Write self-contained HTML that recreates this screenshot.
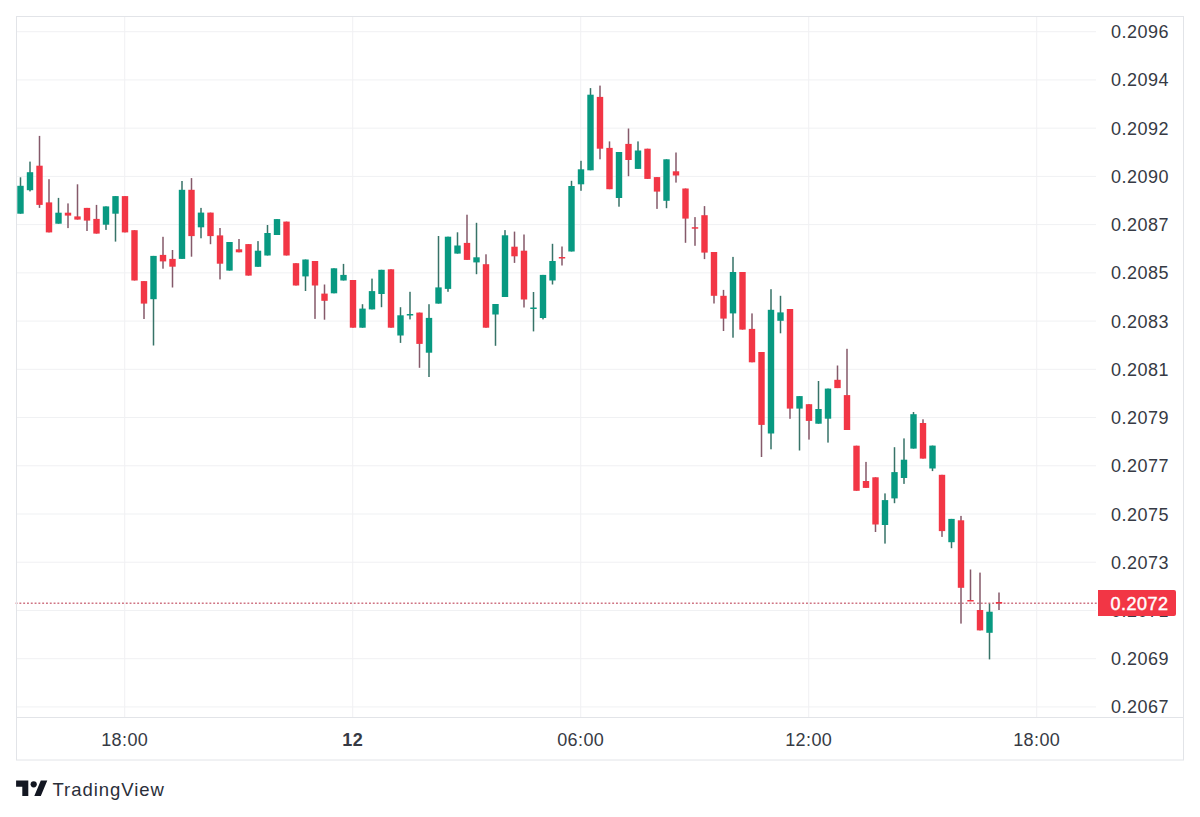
<!DOCTYPE html>
<html><head><meta charset="utf-8"><title>TradingView chart</title>
<style>
html,body{margin:0;padding:0;background:#fff;}
body{width:1200px;height:817px;position:relative;overflow:hidden;font-family:"Liberation Sans",Arial,sans-serif;}
svg.chart{position:absolute;left:0;top:0;}
.pl{position:absolute;left:1100px;width:69px;text-align:right;font-size:18px;letter-spacing:0.5px;line-height:21px;color:#363a44;}
.tl{position:absolute;top:729.5px;width:80px;text-align:center;font-size:18px;letter-spacing:0.4px;line-height:21px;color:#363a44;}
.tl.b{font-weight:bold;}
.last{position:absolute;left:1098.3px;top:590.2px;width:78px;height:25.6px;background:#F23645;color:#fff;font-size:18px;line-height:25.6px;letter-spacing:0.5px;-webkit-text-stroke:0.45px #fff;border-radius:0 2px 2px 0;}
.last span{position:absolute;right:7.8px;top:1.5px;}
.logo{position:absolute;left:12px;top:776px;}
.brand{position:absolute;left:52.5px;top:779px;font-size:18.5px;line-height:22px;color:#2a2e39;letter-spacing:0.95px;}
</style></head>
<body>
<svg class="chart" width="1200" height="817" viewBox="0 0 1200 817" shape-rendering="auto">
<rect x="17" y="31.2" width="1079" height="1" fill="#f0f1f3"/>
<rect x="17" y="79.43" width="1079" height="1" fill="#f0f1f3"/>
<rect x="17" y="127.66" width="1079" height="1" fill="#f0f1f3"/>
<rect x="17" y="175.89" width="1079" height="1" fill="#f0f1f3"/>
<rect x="17" y="224.12" width="1079" height="1" fill="#f0f1f3"/>
<rect x="17" y="272.35" width="1079" height="1" fill="#f0f1f3"/>
<rect x="17" y="320.58" width="1079" height="1" fill="#f0f1f3"/>
<rect x="17" y="368.81" width="1079" height="1" fill="#f0f1f3"/>
<rect x="17" y="417.04" width="1079" height="1" fill="#f0f1f3"/>
<rect x="17" y="465.27" width="1079" height="1" fill="#f0f1f3"/>
<rect x="17" y="513.5" width="1079" height="1" fill="#f0f1f3"/>
<rect x="17" y="561.73" width="1079" height="1" fill="#f0f1f3"/>
<rect x="17" y="609.96" width="1079" height="1" fill="#f0f1f3"/>
<rect x="17" y="658.19" width="1079" height="1" fill="#f0f1f3"/>
<rect x="17" y="706.42" width="1079" height="1" fill="#f0f1f3"/>
<rect x="124.2" y="17" width="1" height="700" fill="#f0f1f3"/>
<rect x="352.2" y="17" width="1" height="700" fill="#f0f1f3"/>
<rect x="580.2" y="17" width="1" height="700" fill="#f0f1f3"/>
<rect x="808.2" y="17" width="1" height="700" fill="#f0f1f3"/>
<rect x="1036.2" y="17" width="1" height="700" fill="#f0f1f3"/>
<line x1="15.6" y1="603.2" x2="1098" y2="603.2" stroke="#cf7483" stroke-width="1.5" stroke-dasharray="1.9 1.9"/>
<rect x="19.75" y="177.3" width="1.5" height="36.4" fill="#377368"/>
<rect x="17.3" y="185.8" width="6.4" height="27.9" fill="#089981"/>
<rect x="29.25" y="161.6" width="1.5" height="29.8" fill="#377368"/>
<rect x="26.8" y="172.2" width="6.4" height="18" fill="#089981"/>
<rect x="38.75" y="135.9" width="1.5" height="72" fill="#85596a"/>
<rect x="36.3" y="165.7" width="6.4" height="39.2" fill="#F23645"/>
<rect x="48.25" y="179.2" width="1.5" height="53.2" fill="#85596a"/>
<rect x="45.8" y="202.4" width="6.4" height="30" fill="#F23645"/>
<rect x="57.75" y="197.9" width="1.5" height="25.8" fill="#377368"/>
<rect x="55.3" y="212.7" width="6.4" height="11" fill="#089981"/>
<rect x="67.25" y="203.4" width="1.5" height="24.7" fill="#85596a"/>
<rect x="64.8" y="212.7" width="6.4" height="2.9" fill="#F23645"/>
<rect x="76.75" y="184.3" width="1.5" height="35.3" fill="#85596a"/>
<rect x="74.3" y="216.4" width="6.4" height="3.2" fill="#F23645"/>
<rect x="86.25" y="207.9" width="1.5" height="23.1" fill="#85596a"/>
<rect x="83.8" y="207.9" width="6.4" height="12.7" fill="#F23645"/>
<rect x="95.75" y="204.9" width="1.5" height="28.7" fill="#85596a"/>
<rect x="93.3" y="218.9" width="6.4" height="14.7" fill="#F23645"/>
<rect x="105.25" y="206.4" width="1.5" height="23.5" fill="#377368"/>
<rect x="102.8" y="206.4" width="6.4" height="18.3" fill="#089981"/>
<rect x="114.75" y="196.1" width="1.5" height="45.5" fill="#377368"/>
<rect x="112.3" y="196.1" width="6.4" height="17.6" fill="#089981"/>
<rect x="124.25" y="196.1" width="1.5" height="36.3" fill="#85596a"/>
<rect x="121.8" y="196.1" width="6.4" height="36.3" fill="#F23645"/>
<rect x="133.75" y="230.2" width="1.5" height="50.3" fill="#85596a"/>
<rect x="131.3" y="230.2" width="6.4" height="50.3" fill="#F23645"/>
<rect x="143.25" y="281.1" width="1.5" height="37.9" fill="#85596a"/>
<rect x="140.8" y="281.1" width="6.4" height="22.5" fill="#F23645"/>
<rect x="152.75" y="255.9" width="1.5" height="89.6" fill="#377368"/>
<rect x="150.3" y="255.9" width="6.4" height="43.3" fill="#089981"/>
<rect x="162.25" y="236.8" width="1.5" height="31.9" fill="#85596a"/>
<rect x="159.8" y="254.9" width="6.4" height="6.5" fill="#F23645"/>
<rect x="171.75" y="250" width="1.5" height="37.5" fill="#85596a"/>
<rect x="169.3" y="258.9" width="6.4" height="7.8" fill="#F23645"/>
<rect x="181.25" y="181" width="1.5" height="77.9" fill="#377368"/>
<rect x="178.8" y="189.8" width="6.4" height="69.1" fill="#089981"/>
<rect x="190.75" y="178.1" width="1.5" height="78.6" fill="#85596a"/>
<rect x="188.3" y="189.8" width="6.4" height="46.3" fill="#F23645"/>
<rect x="200.25" y="207.9" width="1.5" height="30.4" fill="#377368"/>
<rect x="197.8" y="212.6" width="6.4" height="14.7" fill="#089981"/>
<rect x="209.75" y="212.6" width="1.5" height="31.6" fill="#85596a"/>
<rect x="207.3" y="212.6" width="6.4" height="23.5" fill="#F23645"/>
<rect x="219.25" y="228" width="1.5" height="51.4" fill="#85596a"/>
<rect x="216.8" y="235.4" width="6.4" height="28.3" fill="#F23645"/>
<rect x="228.75" y="242" width="1.5" height="28.6" fill="#377368"/>
<rect x="226.3" y="242" width="6.4" height="28.6" fill="#089981"/>
<rect x="238.25" y="239" width="1.5" height="13.3" fill="#85596a"/>
<rect x="235.8" y="249.3" width="6.4" height="3" fill="#F23645"/>
<rect x="247.75" y="244.1" width="1.5" height="31.5" fill="#85596a"/>
<rect x="245.3" y="244.1" width="6.4" height="31.5" fill="#F23645"/>
<rect x="257.25" y="241.1" width="1.5" height="25.7" fill="#377368"/>
<rect x="254.8" y="250.7" width="6.4" height="16.1" fill="#089981"/>
<rect x="266.75" y="225" width="1.5" height="30.5" fill="#377368"/>
<rect x="264.3" y="233" width="6.4" height="22.5" fill="#089981"/>
<rect x="276.25" y="219.1" width="1.5" height="15.9" fill="#377368"/>
<rect x="273.8" y="219.1" width="6.4" height="15.9" fill="#089981"/>
<rect x="285.75" y="221.6" width="1.5" height="33.9" fill="#85596a"/>
<rect x="283.3" y="221.6" width="6.4" height="33.9" fill="#F23645"/>
<rect x="295.25" y="263.2" width="1.5" height="22.3" fill="#85596a"/>
<rect x="292.8" y="263.2" width="6.4" height="22.3" fill="#F23645"/>
<rect x="304.75" y="259.5" width="1.5" height="31.5" fill="#377368"/>
<rect x="302.3" y="259.5" width="6.4" height="16.9" fill="#089981"/>
<rect x="314.25" y="261" width="1.5" height="57.9" fill="#85596a"/>
<rect x="311.8" y="261" width="6.4" height="24.5" fill="#F23645"/>
<rect x="323.75" y="284.5" width="1.5" height="35.2" fill="#85596a"/>
<rect x="321.3" y="293.6" width="6.4" height="7.2" fill="#F23645"/>
<rect x="333.25" y="268.3" width="1.5" height="25" fill="#377368"/>
<rect x="330.8" y="268.3" width="6.4" height="25" fill="#089981"/>
<rect x="342.75" y="263.9" width="1.5" height="16.6" fill="#377368"/>
<rect x="340.3" y="274.9" width="6.4" height="5.6" fill="#089981"/>
<rect x="352.25" y="280" width="1.5" height="47.7" fill="#85596a"/>
<rect x="349.8" y="280" width="6.4" height="47.7" fill="#F23645"/>
<rect x="361.75" y="304.2" width="1.5" height="23.5" fill="#377368"/>
<rect x="359.3" y="308.6" width="6.4" height="19.1" fill="#089981"/>
<rect x="371.25" y="278.6" width="1.5" height="30.8" fill="#377368"/>
<rect x="368.8" y="291.1" width="6.4" height="18.3" fill="#089981"/>
<rect x="380.75" y="269.8" width="1.5" height="37.4" fill="#377368"/>
<rect x="378.3" y="269.8" width="6.4" height="24.2" fill="#089981"/>
<rect x="390.25" y="269.3" width="1.5" height="58.4" fill="#85596a"/>
<rect x="387.8" y="269.3" width="6.4" height="58.4" fill="#F23645"/>
<rect x="399.75" y="307.2" width="1.5" height="35.7" fill="#377368"/>
<rect x="397.3" y="315.3" width="6.4" height="20.2" fill="#089981"/>
<rect x="409.25" y="291.8" width="1.5" height="27.6" fill="#377368"/>
<rect x="406.8" y="314" width="6.4" height="1.5" fill="#089981"/>
<rect x="418.75" y="312.6" width="1.5" height="55.2" fill="#85596a"/>
<rect x="416.3" y="312.6" width="6.4" height="31.3" fill="#F23645"/>
<rect x="428.25" y="304.2" width="1.5" height="72.8" fill="#377368"/>
<rect x="425.8" y="317.9" width="6.4" height="34.8" fill="#089981"/>
<rect x="437.75" y="236" width="1.5" height="67.6" fill="#377368"/>
<rect x="435.3" y="287.4" width="6.4" height="16.2" fill="#089981"/>
<rect x="447.25" y="236.7" width="1.5" height="55.1" fill="#377368"/>
<rect x="444.8" y="236.7" width="6.4" height="52.2" fill="#089981"/>
<rect x="456.75" y="232.3" width="1.5" height="21.3" fill="#377368"/>
<rect x="454.3" y="245.5" width="6.4" height="8.1" fill="#089981"/>
<rect x="466.25" y="214.7" width="1.5" height="45.2" fill="#85596a"/>
<rect x="463.8" y="242.9" width="6.4" height="17" fill="#F23645"/>
<rect x="475.75" y="222.8" width="1.5" height="51.4" fill="#377368"/>
<rect x="473.3" y="257.3" width="6.4" height="5.1" fill="#089981"/>
<rect x="485.25" y="254.3" width="1.5" height="73.4" fill="#85596a"/>
<rect x="482.8" y="264.2" width="6.4" height="63.5" fill="#F23645"/>
<rect x="494.75" y="304" width="1.5" height="41.8" fill="#377368"/>
<rect x="492.3" y="304" width="6.4" height="10.5" fill="#089981"/>
<rect x="504.25" y="230.1" width="1.5" height="66.9" fill="#377368"/>
<rect x="501.8" y="235.3" width="6.4" height="61.7" fill="#089981"/>
<rect x="513.75" y="231.6" width="1.5" height="31.3" fill="#85596a"/>
<rect x="511.3" y="246.7" width="6.4" height="9.6" fill="#F23645"/>
<rect x="523.25" y="234.5" width="1.5" height="73" fill="#85596a"/>
<rect x="520.8" y="250.7" width="6.4" height="48.8" fill="#F23645"/>
<rect x="532.75" y="292" width="1.5" height="39.4" fill="#377368"/>
<rect x="530.3" y="307.5" width="6.4" height="1.5" fill="#089981"/>
<rect x="542.25" y="274.9" width="1.5" height="44.5" fill="#377368"/>
<rect x="539.8" y="274.9" width="6.4" height="43.1" fill="#089981"/>
<rect x="551.75" y="243.8" width="1.5" height="40.7" fill="#377368"/>
<rect x="549.3" y="261" width="6.4" height="19.5" fill="#089981"/>
<rect x="561.25" y="246.5" width="1.5" height="19" fill="#85596a"/>
<rect x="558.8" y="257" width="6.4" height="1.5" fill="#F23645"/>
<rect x="570.75" y="180.8" width="1.5" height="70.7" fill="#377368"/>
<rect x="568.3" y="186" width="6.4" height="65.5" fill="#089981"/>
<rect x="580.25" y="160.8" width="1.5" height="30" fill="#377368"/>
<rect x="577.8" y="169.3" width="6.4" height="15" fill="#089981"/>
<rect x="589.75" y="88.1" width="1.5" height="82.2" fill="#377368"/>
<rect x="587.3" y="94.7" width="6.4" height="75.6" fill="#089981"/>
<rect x="599.25" y="85.6" width="1.5" height="73.7" fill="#85596a"/>
<rect x="596.8" y="96.9" width="6.4" height="51.8" fill="#F23645"/>
<rect x="608.75" y="141.4" width="1.5" height="47.8" fill="#85596a"/>
<rect x="606.3" y="147.9" width="6.4" height="41.3" fill="#F23645"/>
<rect x="618.25" y="152" width="1.5" height="54.7" fill="#377368"/>
<rect x="615.8" y="152" width="6.4" height="46" fill="#089981"/>
<rect x="627.75" y="128.5" width="1.5" height="47.7" fill="#85596a"/>
<rect x="625.3" y="143.9" width="6.4" height="16.1" fill="#F23645"/>
<rect x="637.25" y="141.4" width="1.5" height="27.5" fill="#377368"/>
<rect x="634.8" y="150.5" width="6.4" height="18.4" fill="#089981"/>
<rect x="646.75" y="148.7" width="1.5" height="30.2" fill="#85596a"/>
<rect x="644.3" y="148.7" width="6.4" height="30.2" fill="#F23645"/>
<rect x="656.25" y="177.1" width="1.5" height="31.8" fill="#85596a"/>
<rect x="653.8" y="177.1" width="6.4" height="14.5" fill="#F23645"/>
<rect x="665.75" y="159.3" width="1.5" height="48.9" fill="#377368"/>
<rect x="663.3" y="159.3" width="6.4" height="41.5" fill="#089981"/>
<rect x="675.25" y="152.5" width="1.5" height="30.1" fill="#85596a"/>
<rect x="672.8" y="171.3" width="6.4" height="4.2" fill="#F23645"/>
<rect x="684.75" y="188.5" width="1.5" height="54.3" fill="#85596a"/>
<rect x="682.3" y="188.5" width="6.4" height="30.1" fill="#F23645"/>
<rect x="694.25" y="217.1" width="1.5" height="28.7" fill="#85596a"/>
<rect x="691.8" y="227.2" width="6.4" height="1.5" fill="#F23645"/>
<rect x="703.75" y="206.1" width="1.5" height="53" fill="#85596a"/>
<rect x="701.3" y="215.2" width="6.4" height="37.4" fill="#F23645"/>
<rect x="713.25" y="252" width="1.5" height="51.5" fill="#85596a"/>
<rect x="710.8" y="252" width="6.4" height="43.8" fill="#F23645"/>
<rect x="722.75" y="289.9" width="1.5" height="41.1" fill="#85596a"/>
<rect x="720.3" y="295.8" width="6.4" height="22.8" fill="#F23645"/>
<rect x="732.25" y="256.9" width="1.5" height="80.8" fill="#377368"/>
<rect x="729.8" y="272" width="6.4" height="41.4" fill="#089981"/>
<rect x="741.75" y="272" width="1.5" height="57.6" fill="#85596a"/>
<rect x="739.3" y="272" width="6.4" height="57.6" fill="#F23645"/>
<rect x="751.25" y="313.4" width="1.5" height="48.9" fill="#85596a"/>
<rect x="748.8" y="328.9" width="6.4" height="33.4" fill="#F23645"/>
<rect x="760.75" y="352" width="1.5" height="105" fill="#85596a"/>
<rect x="758.3" y="352" width="6.4" height="72.9" fill="#F23645"/>
<rect x="770.25" y="289.2" width="1.5" height="160.1" fill="#377368"/>
<rect x="767.8" y="309.8" width="6.4" height="123.7" fill="#089981"/>
<rect x="779.75" y="295.8" width="1.5" height="37.5" fill="#377368"/>
<rect x="777.3" y="312.4" width="6.4" height="8.4" fill="#089981"/>
<rect x="789.25" y="309" width="1.5" height="109.8" fill="#85596a"/>
<rect x="786.8" y="309" width="6.4" height="99.6" fill="#F23645"/>
<rect x="798.75" y="396.1" width="1.5" height="54.4" fill="#377368"/>
<rect x="796.3" y="396.1" width="6.4" height="12.5" fill="#089981"/>
<rect x="808.25" y="404.2" width="1.5" height="35.4" fill="#85596a"/>
<rect x="805.8" y="404.2" width="6.4" height="16.7" fill="#F23645"/>
<rect x="817.75" y="381" width="1.5" height="42.7" fill="#377368"/>
<rect x="815.3" y="409" width="6.4" height="14.7" fill="#089981"/>
<rect x="827.25" y="388.6" width="1.5" height="54" fill="#377368"/>
<rect x="824.8" y="388.6" width="6.4" height="30.1" fill="#089981"/>
<rect x="836.75" y="365.5" width="1.5" height="22.6" fill="#85596a"/>
<rect x="834.3" y="379.8" width="6.4" height="8.3" fill="#F23645"/>
<rect x="846.25" y="348.8" width="1.5" height="81.2" fill="#85596a"/>
<rect x="843.8" y="395.1" width="6.4" height="34.9" fill="#F23645"/>
<rect x="855.75" y="445.7" width="1.5" height="45.1" fill="#85596a"/>
<rect x="853.3" y="445.7" width="6.4" height="45.1" fill="#F23645"/>
<rect x="865.25" y="461.9" width="1.5" height="26" fill="#85596a"/>
<rect x="862.8" y="481" width="6.4" height="6.9" fill="#F23645"/>
<rect x="874.75" y="477.3" width="1.5" height="54.7" fill="#85596a"/>
<rect x="872.3" y="477.3" width="6.4" height="47.2" fill="#F23645"/>
<rect x="884.25" y="493.4" width="1.5" height="50.2" fill="#377368"/>
<rect x="881.8" y="500.1" width="6.4" height="24.9" fill="#089981"/>
<rect x="893.75" y="447.2" width="1.5" height="56" fill="#377368"/>
<rect x="891.3" y="472.1" width="6.4" height="26.3" fill="#089981"/>
<rect x="903.25" y="438.4" width="1.5" height="45.5" fill="#377368"/>
<rect x="900.8" y="459.7" width="6.4" height="18.3" fill="#089981"/>
<rect x="912.75" y="412" width="1.5" height="36.6" fill="#377368"/>
<rect x="910.3" y="414.2" width="6.4" height="34.4" fill="#089981"/>
<rect x="922.25" y="419.3" width="1.5" height="39.3" fill="#85596a"/>
<rect x="919.8" y="423" width="6.4" height="35.6" fill="#F23645"/>
<rect x="931.75" y="445.6" width="1.5" height="25.5" fill="#377368"/>
<rect x="929.3" y="445.6" width="6.4" height="22.9" fill="#089981"/>
<rect x="941.25" y="474.8" width="1.5" height="62.1" fill="#85596a"/>
<rect x="938.8" y="474.8" width="6.4" height="56.3" fill="#F23645"/>
<rect x="950.75" y="518.9" width="1.5" height="29.3" fill="#377368"/>
<rect x="948.3" y="518.9" width="6.4" height="23.3" fill="#089981"/>
<rect x="960.25" y="515.9" width="1.5" height="107.7" fill="#85596a"/>
<rect x="957.8" y="520.3" width="6.4" height="67.5" fill="#F23645"/>
<rect x="969.75" y="569.5" width="1.5" height="31.5" fill="#85596a"/>
<rect x="967.3" y="600" width="6.4" height="1.5" fill="#F23645"/>
<rect x="979.25" y="572.6" width="1.5" height="57.8" fill="#85596a"/>
<rect x="976.8" y="610" width="6.4" height="20.4" fill="#F23645"/>
<rect x="988.75" y="603.7" width="1.5" height="55.7" fill="#377368"/>
<rect x="986.3" y="611.7" width="6.4" height="21.1" fill="#089981"/>
<rect x="998.25" y="592.5" width="1.5" height="17.5" fill="#85596a"/>
<rect x="995.8" y="602" width="6.4" height="1.5" fill="#F23645"/>
<rect x="16.5" y="16.5" width="1167" height="743.5" fill="none" stroke="#e2e4e8" stroke-width="1"/>
<rect x="17" y="717" width="1167" height="1" fill="#e2e4e8"/>
</svg>
<div class="pl" style="top:22.2px">0.2096</div>
<div class="pl" style="top:70.43px">0.2094</div>
<div class="pl" style="top:118.66px">0.2092</div>
<div class="pl" style="top:166.89px">0.2090</div>
<div class="pl" style="top:215.12px">0.2087</div>
<div class="pl" style="top:263.35px">0.2085</div>
<div class="pl" style="top:311.58px">0.2083</div>
<div class="pl" style="top:359.81px">0.2081</div>
<div class="pl" style="top:408.04px">0.2079</div>
<div class="pl" style="top:456.27px">0.2077</div>
<div class="pl" style="top:504.5px">0.2075</div>
<div class="pl" style="top:552.73px">0.2073</div>
<div class="pl" style="top:600.96px">0.2071</div>
<div class="pl" style="top:649.19px">0.2069</div>
<div class="pl" style="top:697.42px">0.2067</div>
<div class="tl" style="left:84.7px">18:00</div>
<div class="tl b" style="left:312.7px">12</div>
<div class="tl" style="left:540.7px">06:00</div>
<div class="tl" style="left:768.7px">12:00</div>
<div class="tl" style="left:996.7px">18:00</div>
<div class="last"><span>0.2072</span></div>
<svg class="logo" width="40" height="26" viewBox="12 776 40 26"><path fill="#131722" d="M16.1 780.5H28.3V795.9H22.3V786.7H16.1ZM40.8 780.5H47.3L40.8 795.9H34.3Z"/><circle fill="#131722" cx="33.7" cy="784.3" r="3.1"/></svg>
<div class="brand">TradingView</div>
</body></html>
